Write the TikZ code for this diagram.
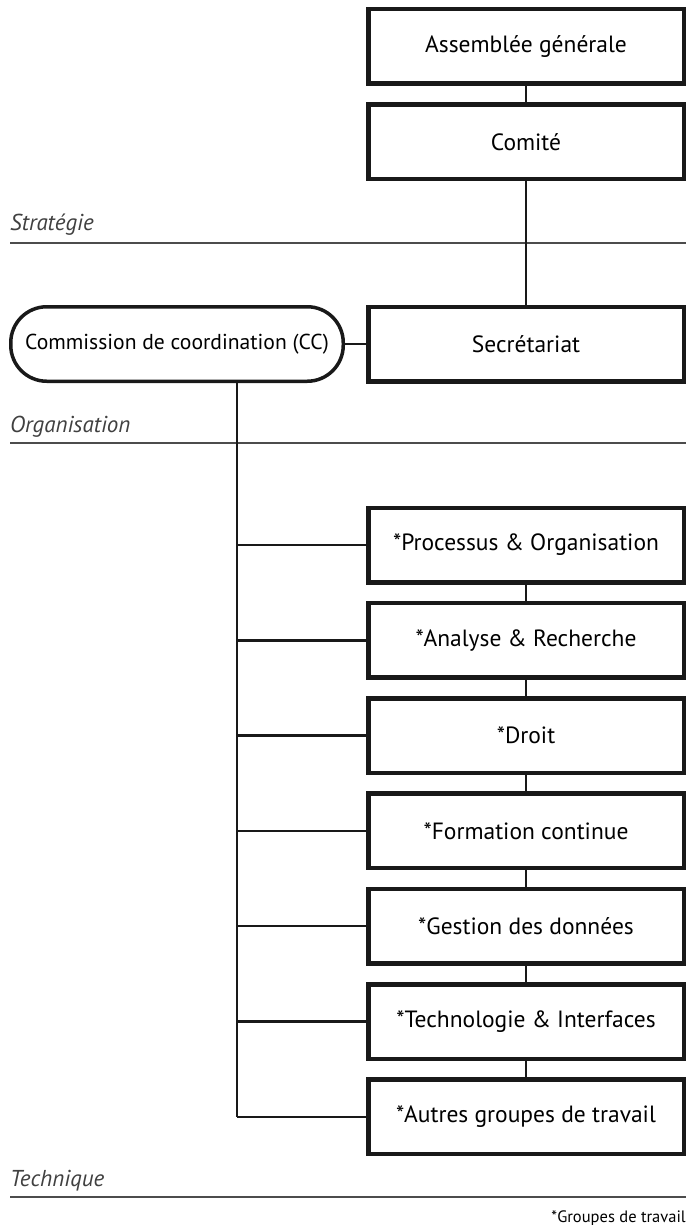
\documentclass[tikz,border=0pt]{standalone}
\usepackage{fontspec}
\setmainfont{PT Sans}
\begin{document}
\begin{tikzpicture}[x=1pt,y=-1pt,
    box/.style={draw=black!90, line width=4.5pt, minimum width=315.5pt, minimum height=74.5pt,
      inner sep=0pt, font=\fontsize{23.5}{27}\selectfont},
    pill/.style={box, line width=3.5pt, rounded corners=36pt, minimum width=332.5pt,
      font=\fontsize{21.6}{25}\selectfont},
    link/.style={draw=black!90, line width=2.4pt},
    sepline/.style={draw=black!70, line width=1.2pt},
    level/.style={anchor=base west, inner sep=0pt, text=black!75,
      font=\fontsize{23}{26}\selectfont\itshape}]
    \useasboundingbox (0,0) rectangle (699,1225);

    % Draw the level lines
    \draw[sepline] (10,243) -- (686,243);
    \draw[sepline] (10,443) -- (686,443);
    \draw[sepline] (10,1197) -- (686,1197);
    \node[level] (strategie) at (10,230) {Stratégie};
    \node[level] (organisation) at (10,432) {Organisation};
    \node[level] (technique) at (10,1186) {Technique};

    % Draw the top boxes
    \node[box] (ag) at (526,46.5) {Assemblée générale};
    \node[box] (comite) at (526,142) {Comité};
    \node[box] (secr) at (526,344) {Secrétariat};
    \node[pill] (cc) at (177,344) {Commission de coordination (CC)};

    % Draw the working groups
    \foreach \name/\txt [count=\i from 0] in {proc/*Processus \& Organisation,
        ana/*Analyse \& Recherche, droit/*Droit, form/*Formation continue,
        gest/*Gestion des données, tech/*Technologie \& Interfaces,
        autres/*Autres groupes de travail}
      \node[box] (\name) at (526,545+95.3*\i) {\txt};

    % Draw the links
    \draw[link] (ag) -- (comite);
    \draw[link] (comite) -- (secr);
    \draw[link] (cc) -- (secr);
    \foreach \a/\b in {proc/ana, ana/droit, droit/form, form/gest, gest/tech, tech/autres}
      \draw[link] (\a) -- (\b);
    \coordinate (trunk) at (237,1117);
    \draw[link] (cc.south -| trunk) -- (trunk);
    \foreach \name in {proc, ana, droit, form, gest, tech, autres}
      \draw[link] (\name.west -| trunk) -- (\name.west);

    \node[anchor=base east, inner sep=0pt, font=\fontsize{16.5}{19}\selectfont]
      (note) at (686,1222) {*Groupes de travail};
\end{tikzpicture}
\end{document}
